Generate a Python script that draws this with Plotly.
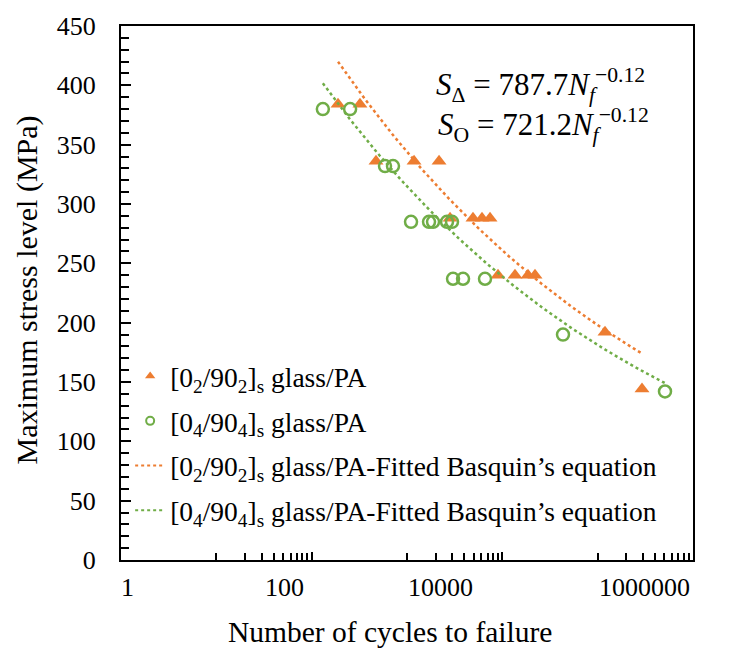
import numpy as np
import plotly.graph_objects as go

# Fatigue test results: cycles to failure and maximum stress (MPa)
cycles_0290 = [189, 321, 473, 1186, 2168, 2828, 4923, 6120, 7430,
               9010, 13580, 18590, 22010, 119400, 291800]
stress_0290 = [384, 384, 336, 336, 336, 288, 288, 288, 288,
               240, 240, 240, 240, 192, 144]

cycles_0490 = [131, 253, 588, 713, 1102, 1702, 1875, 2628, 2966,
               3040, 3870, 6580, 43290, 508500]
stress_0490 = [380, 380, 332, 332, 285, 285, 285, 285, 285,
               237, 237, 237, 190, 142]

# Basquin fit parameters: S = A * Nf^B
basquin_0290 = (787.7, -0.12)
basquin_0490 = (721.2, -0.12)

x_tick_labels = ["1", "100", "10000", "1000000"]

ORANGE = "#ED7D31"
GREEN = "#70AD47"
FONT = "Liberation Serif"

NAME_0290 = "[0<sub>2</sub>/90<sub>2</sub>]<sub>s</sub> glass/PA"
NAME_0490 = "[0<sub>4</sub>/90<sub>4</sub>]<sub>s</sub> glass/PA"
FIT_SUFFIX = "-Fitted Basquin’s equation"


def basquin_curve(cycles, params):
    a, b = params
    n = np.logspace(np.log10(min(cycles)), np.log10(max(cycles)), 200)
    return n, a * n ** b


fig = go.Figure()

tri = dict(symbol="triangle-up", color=ORANGE)
circ = dict(symbol="circle-open", color=GREEN)

fig.add_trace(go.Scatter(
    x=cycles_0290, y=stress_0290, mode="markers", showlegend=False,
    marker=dict(size=13, **tri),
))
fig.add_trace(go.Scatter(
    x=cycles_0490, y=stress_0490, mode="markers", showlegend=False,
    marker=dict(size=12, line=dict(width=2.5, color=GREEN), **circ),
))

n1, s1 = basquin_curve(cycles_0290, basquin_0290)
fig.add_trace(go.Scatter(
    x=n1, y=s1, mode="lines", showlegend=False,
    line=dict(color=ORANGE, width=2.5, dash="dot"),
))
n2, s2 = basquin_curve(cycles_0490, basquin_0490)
fig.add_trace(go.Scatter(
    x=n2, y=s2, mode="lines", showlegend=False,
    line=dict(color=GREEN, width=2.5, dash="dot"),
))

# legend entries with smaller key symbols
legend_items = [
    (NAME_0290, "markers", dict(size=9, **tri), None),
    (NAME_0490, "markers", dict(size=8, line=dict(width=2, color=GREEN), **circ), None),
    (NAME_0290 + FIT_SUFFIX, "lines", None, dict(color=ORANGE, width=2, dash="dot")),
    (NAME_0490 + FIT_SUFFIX, "lines", None, dict(color=GREEN, width=2, dash="dot")),
]
for i, (name, mode, mk, ln) in enumerate(legend_items):
    kw = dict(x=[None], y=[None], mode=mode, name=name,
              legendgroup=f"g{i}", showlegend=True)
    if mk:
        kw["marker"] = mk
    if ln:
        kw["line"] = ln
    fig.add_trace(go.Scatter(**kw))

# minor ticks at 10..90 within each two-decade step
minor_x = [m * 10 ** k for k in (0, 2, 4) for m in range(10, 100, 10)]

fig.update_xaxes(
    type="log", range=[0, 6],
    tickvals=[1, 100, 10000, 1000000], ticktext=["", "", "", ""],
    ticks="inside", ticklen=8, tickwidth=1.8, tickcolor="black",
    minor=dict(tickmode="array", tickvals=minor_x, ticks="inside",
               ticklen=7, tickwidth=1.8, tickcolor="black"),
    showline=True, linecolor="black", linewidth=2, mirror=True,
    showgrid=False, zeroline=False,
)
fig.update_yaxes(
    range=[0, 450], dtick=50,
    ticks="inside", ticklen=10, tickwidth=2.2, tickcolor="black",
    minor=dict(dtick=10, tick0=0, ticks="inside", ticklen=8,
               tickwidth=2.2, tickcolor="black"),
    showline=True, linecolor="black", linewidth=2, mirror=True,
    showgrid=False, zeroline=False,
    tickfont=dict(family=FONT, size=26, color="black"),
    ticklabelstandoff=18,
)

# x tick labels
label_pos = [0.012, 0.285, 0.558, 0.916]
for txt, px in zip(x_tick_labels, label_pos):
    fig.add_annotation(x=px, y=-0.052, xref="paper", yref="paper",
                       text=txt, showarrow=False,
                       font=dict(family=FONT, size=26, color="black"),
                       xanchor="center", yanchor="middle")

# axis titles
fig.add_annotation(x=0.47, y=-0.134, xref="paper", yref="paper",
                   text="Number of cycles to failure", showarrow=False,
                   font=dict(family=FONT, size=29.5, color="black"),
                   xanchor="center", yanchor="middle")
fig.add_annotation(x=-0.164, y=0.505, xref="paper", yref="paper",
                   text="Maximum stress level (MPa)", showarrow=False,
                   textangle=-90,
                   font=dict(family=FONT, size=30, color="black"),
                   xanchor="center", yanchor="middle")

# fitted equations
eq_font = dict(family=FONT, size=31, color="black")
fig.add_annotation(
    x=0.733, y=0.89, xref="paper", yref="paper", showarrow=False,
    text=f"<i>S</i><sub>Δ</sub> = {basquin_0290[0]}<i>N<sub>f</sub></i><sup>−{abs(basquin_0290[1])}</sup>",
    font=eq_font, xanchor="center", yanchor="middle")
fig.add_annotation(
    x=0.738, y=0.815, xref="paper", yref="paper", showarrow=False,
    text=f"<i>S</i><sub>O</sub> = {basquin_0490[0]}<i>N<sub>f</sub></i><sup>−{abs(basquin_0490[1])}</sup>",
    font=eq_font, xanchor="center", yanchor="middle")

fig.update_layout(
    width=742, height=657,
    margin=dict(l=121, r=49, t=24, b=97),
    paper_bgcolor="white", plot_bgcolor="white",
    showlegend=True,
    legend=dict(x=0.016, y=0.39, xanchor="left", yanchor="top",
                bgcolor="rgba(255,255,255,0)", borderwidth=0,
                font=dict(family=FONT, size=27.5, color="black"),
                tracegroupgap=6, itemwidth=30, traceorder="grouped"),
)

fig.write_html("out.html")
